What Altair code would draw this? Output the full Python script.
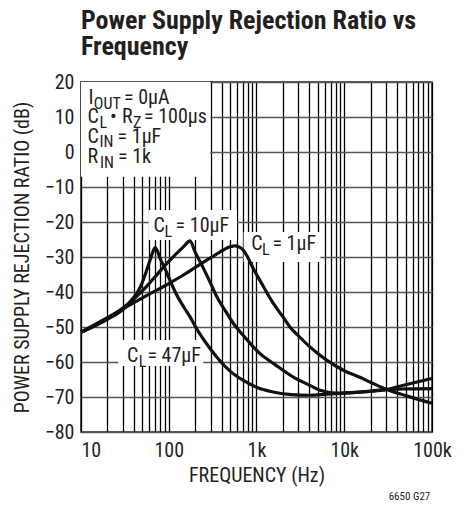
import altair as alt
import pandas as pd

FONT = "Roboto Condensed, DejaVu Sans Condensed, sans-serif"
INK = "#231f20"

# ---- data (frequency in Hz, PSRR in dB) ----
f_1uF = [10, 20, 30, 50, 100, 150, 200, 270, 350, 420, 500, 566, 630, 705, 800, 915,
         1090, 1300, 1550, 2000, 2390, 3000, 4030, 6240, 10000, 14800, 20000, 30000,
         50000, 100000]
db_1uF = [-51.5, -47.3, -44.8, -41.7, -37.6, -35.0, -33.0, -30.9, -29.2, -28.0, -27.1,
          -26.8, -27.1, -28.0, -30.2, -33.2, -36.6, -40.0, -43.2, -47.1, -49.9, -52.5,
          -55.6, -59.4, -62.5, -64.3, -65.8, -67.8, -69.6, -71.8]

f_10uF = [10, 20, 30, 40, 56, 73, 90, 113, 147, 175, 200, 247, 300, 351, 450, 546, 700,
          840, 1097, 1600, 2630, 4000, 5300, 8100, 15000, 30000, 50000, 100000]
db_10uF = [-51.5, -47.6, -44.6, -42.0, -38.4, -35.1, -32.5, -29.9, -27.1, -25.4, -28.6,
           -33.1, -37.5, -41.2, -45.7, -49.0, -52.3, -54.6, -57.6, -60.6, -64.3, -66.6,
           -68.1, -68.9, -68.6, -67.9, -67.7, -67.6]

f_47uF = [10, 20, 30, 40, 47, 56, 62, 66, 70, 74, 80, 90, 104, 123, 150, 175, 208, 270,
          350, 500, 700, 1000, 1500, 2500, 4000, 6300, 10000, 15000, 30000, 50000, 100000]
db_47uF = [-51.5, -47.8, -45.0, -41.5, -38.8, -33.8, -30.5, -28.5, -27.3, -28.2, -30.5,
           -33.2, -36.8, -40.8, -44.5, -47.1, -50.5, -54.8, -58.5, -62.6, -65.2, -67.2,
           -68.5, -69.3, -69.5, -69.2, -68.9, -68.6, -67.9, -66.5, -64.7]

SERIES = [("CL=1uF", f_1uF, db_1uF), ("CL=10uF", f_10uF, db_10uF), ("CL=47uF", f_47uF, db_47uF)]

GRID_X = [m * 10 ** k for k in range(1, 5) for m in range(1, 10)] + [100000]
Y_TICKS = list(range(-80, 21, 10))
DECADE_LABELS = {10: "10", 100: "100", 1000: "1k", 10000: "10k", 100000: "100k"}

TITLE = ["Power Supply Rejection Ratio vs", "Frequency"]
X_TITLE = "FREQUENCY (Hz)"
Y_TITLE = "POWER SUPPLY REJECTION RATIO (dB)"
FOOTNOTE = "6650 G27"

rows = []
for name, fs, ds in SERIES:
    for i, (f, d) in enumerate(zip(fs, ds)):
        rows.append({"series": name, "f": f, "db": d, "order": i})
df = pd.DataFrame(rows)

# ---- annotation layout (view pixel coordinates) ----
boxes = pd.DataFrame({
    "x": [0, 67.6, 162.6, 37.3],
    "x2": [129.3, 156, 239.3, 122.3],
    "y": [0, 128, 150, 258],
    "y2": [94.7, 158, 180, 284],
})

MAIN, SUB = 20, 16
pieces = [
    ("I", 7.6, 22.3, MAIN), ("OUT", 12.8, 27, SUB), ("= 0µA", 43.0, 22.3, MAIN),
    ("C", 6.6, 41.3, MAIN), ("L", 18.4, 46, SUB), ("•", 29.0, 41.3, MAIN),
    ("R", 41.0, 41.3, MAIN), ("Z", 52.0, 46, SUB), ("= 100µs", 63.0, 41.3, MAIN),
    ("C", 6.6, 60.7, MAIN), ("IN", 18.4, 65.4, SUB), ("= 1µF", 36.6, 60.7, MAIN),
    ("R", 6.6, 81.3, MAIN), ("IN", 19.0, 86, SUB), ("= 1k", 37.0, 81.3, MAIN),
    ("C", 72.6, 149.7, MAIN), ("L", 83.4, 154.7, SUB), ("= 10µF", 94.6, 149.7, MAIN),
    ("C", 170.3, 168, MAIN), ("L", 181.1, 173, SUB), ("= 1µF", 191.4, 168, MAIN),
    ("C", 46.0, 279.7, MAIN), ("L", 57.8, 284.7, SUB), ("= 47µF", 66.4, 279.7, MAIN),
]
texts = pd.DataFrame(pieces, columns=["t", "x", "y", "s"])

title_df = pd.DataFrame({"t": TITLE, "x": [0, 0], "y": [-52.7, -27]})

label_expr = " : ".join(
    f"datum.value == {k} ? '{v}'" for k, v in DECADE_LABELS.items()
) + " : ''"

x_enc = alt.X(
    "f:Q",
    scale=alt.Scale(type="log", domain=[10, 100000], nice=False),
    axis=alt.Axis(
        values=GRID_X, labelExpr=label_expr, grid=True, gridColor="#000000",
        gridWidth=1.3, ticks=False, domain=False, labelFont=FONT, labelFontSize=20,
        labelColor=INK, labelPadding=8, labelOverlap=False, labelFlush=False,
        labelAlign={"condition": {"test": "datum.value == 10", "value": "left"}, "value": "center"},
        title=X_TITLE, titleFont=FONT, titleFontSize=20, titleFontWeight="normal",
        titleColor=INK, titleY=49, titleBaseline="alphabetic",
    ),
)
y_enc = alt.Y(
    "db:Q",
    scale=alt.Scale(domain=[-80, 20], nice=False, zero=False),
    axis=alt.Axis(
        values=Y_TICKS, labelExpr="datum.value < 0 ? '\u2212' + abs(datum.value) : datum.label",
        grid=True, gridColor="#555555", gridWidth=1.5, ticks=False, domain=False,
        labelFont=FONT, labelFontSize=20, labelColor=INK, labelPadding=7,
        title=Y_TITLE, titleFont=FONT, titleFontSize=20, titleFontWeight="normal",
        titleColor=INK, titleX=-52.5, titleBaseline="alphabetic",
    ),
)

curves = alt.Chart(df).mark_line(
    interpolate="monotone", color="#111111", strokeWidth=3.2
).encode(x=x_enc, y=y_enc, detail="series:N", order="order:Q")

box_layer = alt.Chart(boxes).mark_rect(fill="white").encode(
    x=alt.X("x:Q", scale=None), x2="x2", y=alt.Y("y:Q", scale=None), y2="y2"
)

text_layer = alt.Chart(texts).mark_text(
    align="left", baseline="alphabetic", font=FONT, color=INK
).encode(
    x=alt.X("x:Q", scale=None), y=alt.Y("y:Q", scale=None),
    text="t:N", size=alt.Size("s:Q", scale=None, legend=None)
)

title_layer = alt.Chart(title_df).mark_text(
    align="left", baseline="alphabetic", font=FONT, fontSize=26, fontWeight="bold", color=INK
).encode(x=alt.X("x:Q", scale=None), y=alt.Y("y:Q", scale=None), text="t:N")

foot = alt.Chart(pd.DataFrame({"t": [FOOTNOTE]})).mark_text(
    align="right", baseline="alphabetic", font=FONT, fontSize=11, color=INK
).encode(x=alt.value(349.3), y=alt.value(418), text="t:N")

chart = alt.layer(box_layer, curves, text_layer, title_layer, foot).properties(
    width=351, height=350,
    autosize=alt.AutoSizeParams(type="none"),
    padding={"left": 73, "top": 74, "right": 27, "bottom": 72},
).configure_view(stroke=INK, strokeWidth=1.5)

chart.save("out.html", embed_options={"renderer": "svg", "actions": False})
